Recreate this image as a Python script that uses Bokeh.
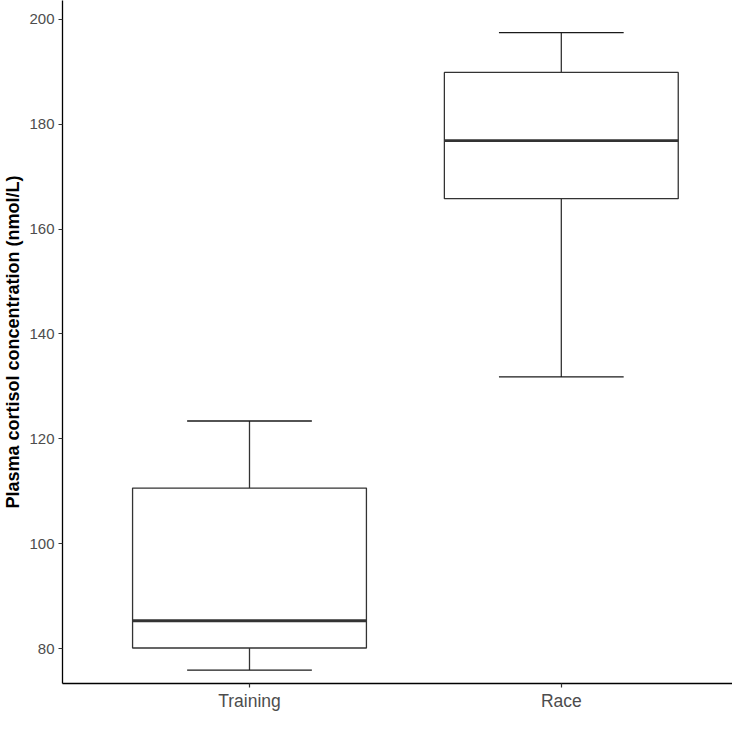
from bokeh.plotting import figure
from bokeh.models import Range1d, FixedTicker, ColumnDataSource
from bokeh.embed import file_html
from bokeh.resources import INLINE

# ---- data ----
categories = ["Training", "Race"]
positions = [1, 2]
whisker_low = [75.9, 131.8]
q1 = [80.1, 165.8]
median = [85.3, 176.9]
q3 = [110.6, 189.9]
whisker_high = [123.4, 197.5]
y_ticks = [80, 100, 120, 140, 160, 180, 200]

box_w = 0.75
cap_w = 0.4

src = ColumnDataSource(dict(
    x=positions, lo=whisker_low, q1=q1, med=median, q3=q3, hi=whisker_high,
    left=[p - box_w / 2 for p in positions], right=[p + box_w / 2 for p in positions],
    cl=[p - cap_w / 2 for p in positions], cr=[p + cap_w / 2 for p in positions],
))

p = figure(width=732, height=713, output_backend="svg", toolbar_location=None,
           x_range=Range1d(0.4003, 2.549), y_range=Range1d(73.33, 203.61),
           min_border_left=62, min_border_right=0, min_border_top=0, min_border_bottom=28)

# whiskers
p.segment(x0="x", y0="q3", x1="x", y1="hi", source=src, line_color="#333333", line_width=1.3)
p.segment(x0="x", y0="lo", x1="x", y1="q1", source=src, line_color="#333333", line_width=1.3)
# caps
p.segment(x0="cl", y0="hi", x1="cr", y1="hi", source=src, line_color="#1a1a1a", line_width=1.3)
p.segment(x0="cl", y0="lo", x1="cr", y1="lo", source=src, line_color="#1a1a1a", line_width=1.3)
# boxes
p.quad(left="left", right="right", bottom="q1", top="q3", source=src,
       fill_color="white", line_color="#333333", line_width=1.3)
# medians
p.segment(x0="left", y0="med", x1="right", y1="med", source=src, line_color="#333333", line_width=2.8)

p.grid.visible = False
p.outline_line_color = None
p.background_fill_color = "white"
p.border_fill_color = "white"

p.xaxis.ticker = FixedTicker(ticks=positions)
p.xaxis.major_label_overrides = {pos: c for pos, c in zip(positions, categories)}
p.yaxis.ticker = FixedTicker(ticks=y_ticks)

for ax in (p.xaxis, p.yaxis):
    ax.axis_line_color = "black"
    ax.axis_line_width = 1.3
    ax.major_tick_line_color = "#333333"
    ax.major_tick_line_width = 1.2
    ax.major_tick_out = 4
    ax.major_tick_in = 0
    ax.minor_tick_line_color = None
    ax.major_label_text_color = "#4D4D4D"
    ax.major_label_text_font = "Liberation Sans"
    ax.major_label_standoff = 4

p.xaxis.major_label_standoff = 3
p.xaxis.major_label_text_font_size = "17.5px"
p.yaxis.major_label_text_font_size = "15px"

p.yaxis.axis_label = "Plasma cortisol concentration (nmol/L)"
p.yaxis.axis_label_text_font = "Liberation Sans"
p.yaxis.axis_label_text_font_style = "bold"
p.yaxis.axis_label_text_font_size = "18px"
p.yaxis.axis_label_text_color = "black"
p.yaxis.axis_label_standoff = 3

open("out.html", "w").write(file_html(p, INLINE))
